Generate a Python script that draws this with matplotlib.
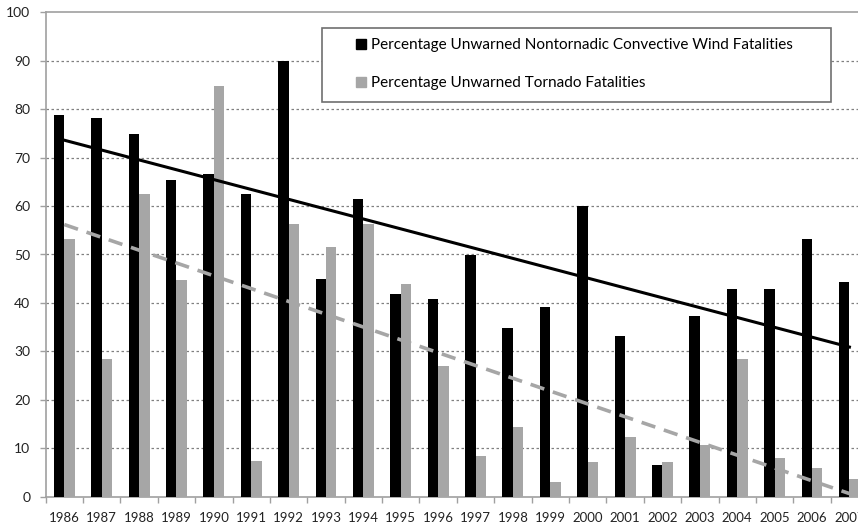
import numpy as np
import matplotlib.pyplot as plt
from matplotlib.patches import Patch, Rectangle

years = [str(y) for y in range(1986, 2008)]
wind = [78.7, 78.2, 74.9, 65.3, 66.6, 62.5, 89.9, 44.9, 61.5, 41.8, 40.8,
        49.9, 34.8, 39.2, 60.0, 33.2, 6.6, 37.4, 42.8, 42.8, 53.3, 44.3]
tornado = [53.2, 28.4, 62.5, 44.7, 84.8, 7.4, 56.3, 51.5, 56.2, 44.0, 26.9,
           8.5, 14.3, 3.1, 7.1, 12.4, 7.2, 10.6, 28.4, 8.0, 5.9, 3.7]
labels = ["Percentage Unwarned Nontornadic Convective Wind Fatalities",
          "Percentage Unwarned Tornado Fatalities"]

plt.rcParams["font.family"] = ["Lato", "DejaVu Sans"]

W, H = 858, 528
fig = plt.figure(figsize=(W / 100, H / 100), dpi=100)
ax = fig.add_axes([45.6 / W, 31.3 / H, 822.5 / W, 484.4 / H])

x = np.arange(len(years))
bw = 0.28
gray = "#a6a6a6"
ax.bar(x - bw / 2, wind, bw, color="black", zorder=3)
ax.bar(x + bw / 2, tornado, bw, color=gray, zorder=3)

# linear trend lines
for vals, style in [(wind, dict(color="black", lw=2.2, ls="-")),
                    (tornado, dict(color=gray, lw=2.6, ls=(0, (4, 2.5))))]:
    k, b = np.polyfit(x, vals, 1)
    ax.plot([x[0], x[-1]], [k * x[0] + b, k * x[-1] + b], zorder=4, **style)

ax.set_xlim(-0.5, len(years) - 0.5)
ax.set_ylim(0, 100)
ax.set_yticks(range(0, 101, 10))
ax.set_xticks(x)
ax.set_xticklabels(years)
ax.set_xticks(np.arange(-0.5, len(years), 1), minor=True)
ax.tick_params(axis="x", which="major", length=0, pad=11, labelsize=9.5, colors="#222222")
ax.tick_params(axis="x", which="minor", length=4, color="#a0a0a0", width=1)
ax.tick_params(axis="y", length=4, color="#a0a0a0", width=1, pad=7, labelsize=10, colors="#222222")
ax.tick_params(axis="y", color="#a0a0a0")

for yv in range(10, 100, 10):
    ax.axhline(yv, color="#808080", lw=0.9, ls=(0, (2, 2)), zorder=1)

for s in ["top", "left", "bottom"]:
    ax.spines[s].set_color("#a0a0a0")
    ax.spines[s].set_linewidth(1.2)
ax.spines["right"].set_visible(False)

# legend frame drawn separately so the padding can be wider than tall
frame = Rectangle((321.7 / W, 1 - 101.7 / H), 509 / W, 74 / H, transform=fig.transFigure,
                  facecolor="white", edgecolor="#707070", lw=1.2, zorder=5, clip_on=False)
ax.add_patch(frame)

handles = [Patch(color="black"), Patch(color=gray)]
leg = ax.legend(handles, labels, loc="upper left",
                bbox_to_anchor=(356.0 / W, 1 - 38.5 / H), bbox_transform=fig.transFigure,
                fontsize=11, handlelength=0.65, handleheight=0.65, handletextpad=0.35,
                labelspacing=1.57, borderpad=0, borderaxespad=0, frameon=False)
leg.set_zorder(6)

fig.savefig("out.png", dpi=100)
